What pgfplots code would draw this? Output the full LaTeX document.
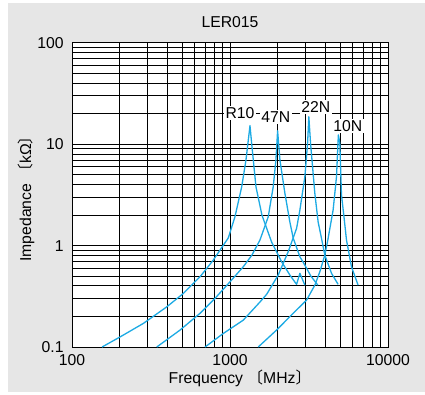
\documentclass[border=0pt]{standalone}
\usepackage{pgfplots}
\pgfplotsset{compat=1.18}
\usepackage{fontspec}
\setmainfont{Liberation Sans}
\newfontfamily\cjk{Noto Sans CJK JP}
\definecolor{bg}{RGB}{230,230,230}
\definecolor{curve}{RGB}{28,170,228}
\tikzset{imp/.style={color=curve, line width=1.3bp, line join=round, mark=none}}
\begin{document}
\fontsize{15.8}{18}\selectfont
\begin{tikzpicture}[x=1bp,y=1bp]
\fill[white] (0,0) rectangle (425,395);
\fill[bg] (8,3) rectangle (425,392);
\useasboundingbox (0,0) rectangle (425,395);
\begin{axis}[
 at={(72bp,48bp)}, anchor=south west,
 scale only axis, width=316bp, height=304bp,
 xmode=log, ymode=log,
 xmin=100, xmax=10000, ymin=0.1, ymax=100,
 xtick={100,1000,10000}, xticklabels={100,1000,10000},
 ytick={0.1,1,10,100}, yticklabels={0.1,1,10,100},
 major tick length=0pt, minor tick length=0pt,
 grid=both,
 major grid style={black, line width=1bp},
 minor grid style={black, line width=1bp},
 axis line style={black, line width=1bp},
 axis background/.style={fill=white},
 tick label style={font=\fontsize{15.8}{18}\selectfont},
 /pgf/number format/assume math mode=true,
 xticklabel style={yshift=-2bp},
 yticklabel style={xshift=-3bp},
]
% R10
\addplot[imp] coordinates {(155,0.1)(202,0.126)(283,0.171)(398,0.249)(507,0.338)(646,0.493)(784,0.721)(907,1.01)(975,1.19)(1075,1.93)(1186,3.81)(1262,7.0)(1338,15.3)(1371,10.2)(1460,3.81)(1593,2.0)(1834,1.085)(2121,0.694)(2393,0.513)(2638,0.415)(2769,0.533)(2977,0.408)};
% 47N
\addplot[imp] coordinates {(344,0.1)(483,0.147)(646,0.215)(804,0.302)(1000,0.440)(1213,0.619)(1377,0.808)(1547,1.136)(1746,1.93)(1877,3.81)(1953,7.0)(2001,13.6)(2070,7.0)(2226,3.28)(2393,1.71)(2511,1.19)(2769,0.777)(2977,0.643)(3249,0.501)(3597,0.408)};
% 22N
\addplot[imp] coordinates {(695,0.1)(907,0.136)(1213,0.184)(1547,0.278)(1706,0.331)(2019,0.513)(2335,0.871)(2638,1.48)(2769,2.25)(2977,4.79)(3097,10.2)(3155,18.7)(3235,10.2)(3443,3.28)(3613,1.71)(3758,1.27)(3982,0.808)(4391,0.533)(4833,0.415)};
% 10N
\addplot[imp] coordinates {(1509,0.1)(1972,0.147)(2511,0.215)(3051,0.290)(3443,0.408)(3704,0.553)(3982,0.808)(4160,1.136)(4494,2.25)(4721,4.79)(4850,12.4)(4954,10.3)(5077,3.16)(5250,2.0)(5461,1.136)(5873,0.619)(6466,0.408)};
\node[fill=white, inner sep=1.5bp] at (axis cs:1157,20.4) {R10};
\node[fill=white, inner sep=1.5bp] at (axis cs:1953,18.6) {47N};
\node[fill=white, inner sep=1.5bp] at (axis cs:3494,23.4) {22N};
\node[fill=white, inner sep=1.5bp] at (axis cs:5566,15.2) {10N};
\end{axis}
\node at (230,372.5) {LER015};
\node at (240,17) {Frequency {\cjk 〔}MHz{\cjk 〕}};
\node[rotate=90] at (26,200) {Impedance {\cjk 〔}k\char"03A9{\cjk 〕}};
\end{tikzpicture}
\end{document}
